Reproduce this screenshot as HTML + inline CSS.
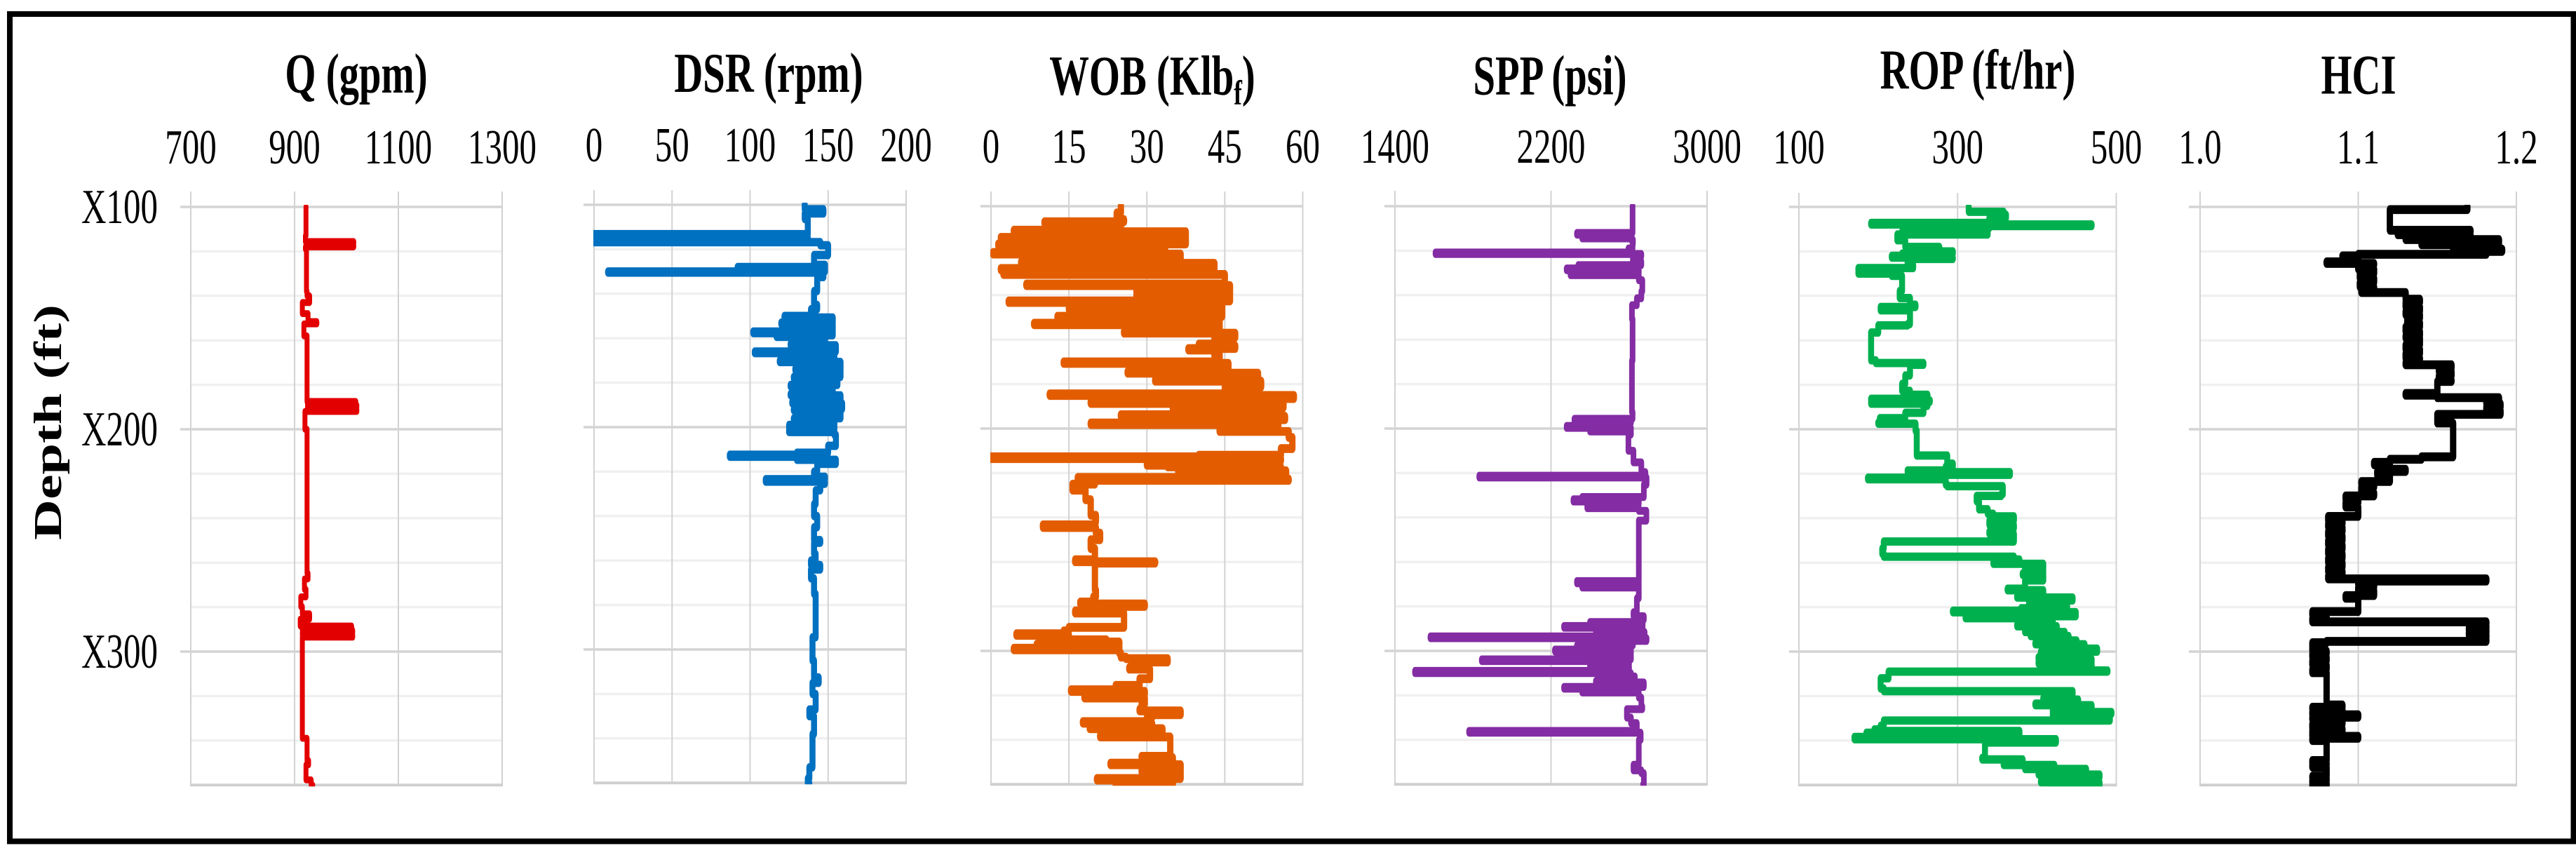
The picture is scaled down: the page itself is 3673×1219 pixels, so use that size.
<!DOCTYPE html>
<html lang="en">
<head>
<meta charset="utf-8">
<title>Drilling log tracks</title>
<style>
html,body{margin:0;padding:0;background:#fff;width:3673px;height:1219px;overflow:hidden}
svg{display:block}
text{font-family:"Liberation Serif",serif;fill:#000}
</style>
</head>
<body>
<svg id="chart" xmlns="http://www.w3.org/2000/svg" width="3673" height="1219" viewBox="0 0 3673 1219">
  <rect x="0" y="0" width="3673" height="1219" fill="#fff"/>
  <rect x="14" y="20" width="3655.5" height="1179.5" fill="none" stroke="#000" stroke-width="8"/>
  <text transform="translate(87,602) rotate(-90) scale(1.43,1)" font-size="56" font-weight="bold" text-anchor="middle">Depth (ft)</text>
  <text transform="translate(508,132) scale(0.7,1)" font-size="81" font-weight="bold" text-anchor="middle">Q (gpm)</text>
  <text transform="translate(1096,131) scale(0.7,1)" font-size="81" font-weight="bold" text-anchor="middle">DSR (rpm)</text>
  <text transform="translate(1643,135) scale(0.7,1)" font-size="81" font-weight="bold" text-anchor="middle">WOB (Klb<tspan font-size="50" dy="14">f</tspan><tspan dy="-14">)</tspan></text>
  <text transform="translate(2210,134.5) scale(0.7,1)" font-size="81" font-weight="bold" text-anchor="middle">SPP (psi)</text>
  <text transform="translate(2820,126.5) scale(0.7,1)" font-size="81" font-weight="bold" text-anchor="middle">ROP (ft/hr)</text>
  <text transform="translate(3363,133.5) scale(0.7,1)" font-size="81" font-weight="bold" text-anchor="middle">HCI</text>
  <defs id="clips"></defs>
</svg>
<script>
const depthLabels = ['X100', 'X200', 'X300'];
const depthMajor = [100, 200, 300];
const depthMinor = [120, 140, 160, 180, 220, 240, 260, 280, 320, 340];
const depthRange = [100, 360];

const qTicks = ['700', '900', '1100', '1300'];
const dsrTicks = ['0', '50', '100', '150', '200'];
const wobTicks = ['0', '15', '30', '45', '60'];
const sppTicks = ['1400', '2200', '3000'];
const ropTicks = ['100', '300', '500'];
const hciTicks = ['1.0', '1.1', '1.2'];

const qDepth = [
100,113,115,115.6,116.4,117.2,118,119,138,140,
143,148,151.6,152.6,156,158,184.7,187.5,188.4,189.2,
190,191,192,193,200,264.8,267.3,272,275.4,279.8,
283,285.4,288.5,289.4,290.4,291.4,292.4,293.5,294.5,337,
339,349,350.9,357.7,360];
const qValues = [
922,921,921,1014,922,1014,921,923,924,929,
915,926,943,918,918,924,924,1018,925,1020,
925,1020,920,920,924,926,919,922,912,915,
929,911,1010,915,1012,915,1012,915,915,915,
924,927,922,932,935];

const dsrDepth = [
100,102,103.9,106.4,111.3,113.2,114.5,115.9,116.8,118.2,
122.6,127,128,128.8,130,130.5,132.5,138.8,145,147,
150,150.7,153,153.7,157,157.7,158.7,159.4,162.5,163.2,
166,166.7,170,170.7,173.7,174.4,177.4,178.1,181,181.7,
185,185.7,188.6,189.3,191.8,192.5,196,196.7,199,199.7,
201,202.2,203.4,208.4,211.5,212.4,213.3,214.7,216.5,220,
222.3,223.4,224.5,225.5,228.4,234.6,240,245,250.8,252,
257,260,262,264,268,275,284.5,294.5,305,312.6,
315,320,327,330,338,349,353,358,360,360];
const dsrValues = [
135,147,135,137,137,0,137,0,145,150,
141,148,92,148,9,147,143,141,143,139,
122,153,120,153,102,153,117,148,126,155,
103,154,119,158,129,158,128,156,126,153,
126,158,127,159,128,158,128,154,125,154,
125,154,155,150,130,87,130,155,143,141,
148,110,148,145,142,141,143,141,145,141,
142,139,145,139,141,142,142,140,141,144,
140,142,138,141,140,140,138,137,138,138];

const wobDepth = [
100,103,106,107,107.7,110.8,111.5,114,114.7,117,
117.7,120.8,121.5,125,125.7,128,128.7,130,130.7,135,
135.7,138,138.7,140,140.7,142.6,143.3,145.8,146.5,149.5,
150.2,152.6,153.3,156.4,157.1,159,159.7,162,162.7,164,
164.7,166.4,167.1,170,170.7,172.5,174.4,175.1,176.5,178,
178.7,181.3,184.4,185.1,186.5,187.2,188,188.7,190.5,191.2,
192.5,193.8,194.5,196,197.5,198.2,199,200.6,201.3,204,
209,212,212.7,213.5,214.5,216.5,217.2,218.3,219,220.5,
222,222.7,223.3,225,227.7,232,239,242,243.3,244.5,
247,250,254,259,259.9,260.5,266,272.6,275.7,278,
278.9,280,282,283,288,289.4,291,292.3,293,295,
296,297,297.7,298.8,299.5,301,302.8,303.5,305,307.5,
308.2,312.5,315.5,317.5,318.2,319.4,321.2,324,326.2,327,
328.7,330,331.8,332.5,334.3,335,338,338.7,345,347.4,
348,350.5,351.2,353.7,354.4,357.4,358.1,360,360,360];
const wobValues = [
25,24.2,25.6,10.3,25,4.4,37.5,1.9,37.5,1.4,
33.5,0.4,36.5,5.8,43,1.9,42.5,2.4,45,6.8,
46,28,46,28,46,3.4,44.5,15,44.5,12.8,
44,8.3,44,25.6,47,43,45,40,47,38,
44,43,44,14,45.7,40,26.3,51.4,40,31.6,
52,45,11.3,58.3,30,56,19.2,56.3,35,56,
35,25,56.6,35,19.2,55.3,44,44,57.3,58,
55.8,40,0,55.8,30,34,55.8,36,56.8,40,
16.7,57.3,20,15.7,18.2,19.2,20.2,20,10,20.2,
21,19.2,20,16.2,31.6,20,20,20.2,19.7,17.2,
29.6,20,16.2,25.6,25.6,15,14,4.9,15,22.2,
24.7,8.8,24.7,4.4,24.7,25,26,34,27,26.6,
30.6,28.6,24,15.4,29.6,18,29.6,29,28.6,36.5,
31,30,17.7,31,19,33,21,34.5,34.5,29,
35,23,36.5,29,36.5,20.4,35,24,33,33];

const sppDepth = [
100,110,111.5,112,112.8,113.5,114.5,115,117,119,
120.8,121.5,122.5,124.8,126.5,127.2,128,128.8,130,131,
133.3,138.3,141.4,144.5,150.7,169.5,192.5,195.6,196.5,197.5,
198.8,199.7,200.5,201.3,202.7,210,215.2,219.6,221.2,222,
225.2,229.6,230.8,231.8,232.8,234,234.9,235.8,237,241.4,
246.4,267,268.6,269.6,270.7,271.5,276.3,282.6,284.4,286,
287,287.7,288.8,289.6,290.5,291.5,293.5,294.3,295.5,296.5,
297.5,298.3,299.4,300.3,301.3,302.2,303.8,304.6,306,307,
309,310,311.5,313.5,314.2,316.2,317,318,318.7,321,
325,326.2,330,332.5,336,336.8,340,348.7,351.2,353.7,
355,360];
const sppValues = [
2618,2618,2618,2333,2610,2360,2610,2620,2618,2597,
1608,2663,2620,2663,2340,2650,2280,2650,2300,2650,
2668,2663,2640,2615,2618,2615,2618,2320,2610,2330,
2280,2610,2400,2610,2597,2623,2663,2684,1832,2690,
2676,2676,2360,2315,2650,2386,2386,2650,2689,2650,
2650,2650,2333,2650,2360,2650,2640,2623,2676,2670,
2400,2670,2267,2670,2430,2680,1582,2690,2400,2620,
2333,2610,2220,2610,2300,2610,1845,2600,2400,2600,
1503,2610,2630,2430,2676,2267,2640,2360,2650,2663,
2668,2589,2610,2640,1780,2660,2650,2650,2623,2663,
2676,2672];

const ropDepth = [
100,102.2,103.5,105,107.2,107.9,108.6,109.5,110.3,111,
111.7,112.4,115,118,119,120,121,122,122.8,123.4,
126,127.5,128.4,129,130,131,137.8,141,144,145,
146.5,152.7,153.3,156.5,164.6,169,170.2,171,175.8,179.6,
182.7,184.5,186.3,187,187.7,188.5,189.5,192.6,195,197,
197.5,200.7,211,211.8,215.5,216.8,218.5,219.3,220.5,221.8,
222.5,224.9,225.6,229.2,230,232.4,236,238,239.2,241,
243,244.5,246,247,249.2,250.5,253.6,256,257.3,258.6,
259.8,260.5,262.5,263.3,264.8,265.5,268,271.7,272.4,275,
275.7,277,279,280.5,281.6,282.3,284.1,285,287.9,288.6,
290.4,291.2,292.2,293,294,295,296,296.7,297.5,298.7,
300,301,302.5,303.3,304.7,305.4,307,308.5,309,312,
316.6,317.8,319,320.9,321.6,323.4,324.1,325.5,327.2,328,
329,330.3,331,333.4,335,335.7,336.5,337.4,338.4,339.4,
340.9,347.8,348.5,350.3,351,352.1,352.8,354.6,355.3,356.5,
358.1,358.8,360,360];
const ropValues = [
314,358,361,340,191,469,340,250,334,230,
338,224,234,277,240,294,230,217,294,237,
244,175,217,175,217,230,227,240,247,203,
240,237,200,191,191,197,257,240,234,230,
240,262,191,265,191,262,257,234,202,200,
247,248.5,248.5,287,294,285,237,366,280,187,
285,287,357,355,324,327,338,345,371,340,
371,345,340,371,371,207,205,207,371,378,
345,408,385,408,382,408,385,363,408,375,
445,390,438,380,294,449,310,420,375,425,
385,435,392,440,400,450,398,460,410,476,
405,468,402,469,402,469,410,489,213,203,
207,445,410,408,452,398,469,420,494,420,
490,492,207,203,195,378,185,378,170,424,
334.5,331,382,358,422,385,462,402,479,410,
405,479,417,465];

const hciDepth = [
100,101.2,109.5,110.5,111.3,112.5,113,114,114.7,116,
117,118,119,120,121.3,122,123,124.7,125.4,126,
128,130,132,134,136,137.8,138.5,139.5,141.5,143,
145,147,148.5,150,152,154,156,158,159,160,
162,164,166,168,170,171,172.5,174,176,178,
178.5,183,183.9,184.7,185.8,187,188.5,190,191.5,193.3,
194.5,196.4,197.2,200,211,212.4,213.5,214.9,216,218,
219,220.5,222.4,223.5,224.5,226,228.6,230,231.5,233,
235,237.4,239.2,241,242.5,244,246,248,250,252,
254,256,258,260,262,264,266,267.3,268.3,269.8,
271,272.5,274.8,276,278,281,282,283.5,285,286.6,
287.5,288.5,289.5,290.5,291.5,292.5,293.5,294.5,295.4,296,
299.7,301,302.5,304.1,306,308,309.5,311,323,324,
325,326,327,328.4,329.5,330.5,331.5,332.5,333.5,334.7,
335.7,336.5,337,338.1,339,340,341,347.5,349,350.2,
351,352,355,356,357,358,359,360];
const hciValues = [
1.169,1.12,1.12,1.171,1.125,1.171,1.13,1.13,1.189,1.14,
1.189,1.16,1.191,1.181,1.1,1.09,1.1,1.08,1.11,1.1,
1.11,1.101,1.11,1.101,1.11,1.102,1.13,1.13,1.139,1.13,
1.139,1.13,1.139,1.131,1.139,1.13,1.139,1.13,1.139,1.139,
1.13,1.139,1.13,1.139,1.13,1.159,1.151,1.159,1.151,1.159,
1.15,1.15,1.13,1.15,1.189,1.181,1.19,1.181,1.19,1.15,
1.15,1.15,1.16,1.16,1.16,1.14,1.12,1.11,1.12,1.13,
1.112,1.12,1.12,1.102,1.11,1.102,1.11,1.092,1.1,1.092,
1.1,1.1,1.081,1.09,1.081,1.09,1.081,1.09,1.081,1.09,
1.081,1.09,1.081,1.09,1.081,1.09,1.081,1.181,1.1,1.11,
1.1,1.11,1.092,1.1,1.1,1.1,1.071,1.08,1.071,1.181,
1.17,1.181,1.17,1.181,1.17,1.181,1.17,1.181,1.08,1.071,
1.08,1.071,1.08,1.071,1.08,1.071,1.08,1.08,1.08,1.09,
1.071,1.09,1.071,1.1,1.071,1.09,1.09,1.071,1.071,1.09,
1.071,1.09,1.071,1.1,1.071,1.08,1.08,1.08,1.071,1.08,
1.071,1.08,1.08,1.071,1.08,1.071,1.08,1.071];

const NS = 'http://www.w3.org/2000/svg';
const svg = document.getElementById('chart');
const clips = document.getElementById('clips');
const PX_PER_FT = 3.17;
const STROKE_STRETCH = 1.4;

const tracks = [
  {id:'q',   left:272,  right:716,    top:295, base:233, capTop:273, tickLeft:257,  sw:7,   color:'#e30000', ticks:qTicks,   depth:qDepth,   values:qValues},
  {id:'dsr', left:847,  right:1292,   top:292, base:230, capTop:271, tickLeft:832,  sw:8.5, color:'#0070c0', ticks:dsrTicks, depth:dsrDepth, values:dsrValues},
  {id:'wob', left:1413, right:1857.5, top:294, base:232, capTop:273, tickLeft:1398, sw:9,   color:'#e35d00', ticks:wobTicks, depth:wobDepth, values:wobValues},
  {id:'spp', left:1989, right:2434,   top:294, base:232, capTop:272, tickLeft:1974, sw:8,   color:'#832ca3', ticks:sppTicks, depth:sppDepth, values:sppValues},
  {id:'rop', left:2565, right:3017.5, top:295, base:233, capTop:275, tickLeft:2551, sw:8.5, color:'#00b04f', ticks:ropTicks, depth:ropDepth, values:ropValues},
  {id:'hci', left:3137, right:3588,   top:295, base:233, capTop:273, tickLeft:3121, sw:9,   color:'#000000', ticks:hciTicks, depth:hciDepth, values:hciValues}
];

function create(tag, attrs, parent) {
  const el = document.createElementNS(NS, tag);
  for (const k in attrs) el.setAttribute(k, attrs[k]);
  (parent || svg).appendChild(el);
  return el;
}

tracks.forEach(function (t) {
  const min = Number(t.ticks[0]);
  const max = Number(t.ticks[t.ticks.length - 1]);
  const xScale = function (v) { return t.left + (v - min) / (max - min) * (t.right - t.left); };
  const yScale = function (d) { return t.top + (d - depthRange[0]) * PX_PER_FT; };
  const bottom = yScale(depthRange[1]);

  const grid = create('g', {});
  
  

  depthMinor.forEach(function (d) {
    const line = create('line', {x1:t.left, x2:t.right, y1:yScale(d), y2:yScale(d), stroke:'#f0f0f0', 'stroke-width':3.5}, grid);
    
    
  });

  t.ticks.forEach(function (label) {
    const x = xScale(Number(label));
    const line = create('line', {x1:x, x2:x, y1:t.capTop, y2:bottom, stroke:'#d2d2d2', 'stroke-width':2}, grid);
    
    

    const text = create('text', {transform:'translate(' + x + ',' + t.base + ') scale(0.7,1)', 'font-size':70, 'text-anchor':'middle'});
    
    
    text.textContent = label;
  });

  depthMajor.forEach(function (d) {
    const line = create('line', {x1:t.tickLeft, x2:t.right, y1:yScale(d), y2:yScale(d), stroke:'#d4d4d4', 'stroke-width':3.5}, grid);
    
    
  });

  const baseLine = create('line', {x1:t.left - 1, x2:t.right + 1, y1:bottom, y2:bottom, stroke:'#cfcfcf', 'stroke-width':4}, grid);
  
  

  const clip = create('clipPath', {id:'clip-' + t.id}, clips);
  create('rect', {x:t.left - 1, y:t.top - 3, width:t.right - t.left + 30, height:bottom - t.top + 5}, clip);

  const n = Math.min(t.depth.length, t.values.length);
  const pts = [];
  for (let i = 0; i < n; i++) {
    const yy = (yScale(t.depth[i]) / STROKE_STRETCH).toFixed(2);
    if (i > 0) pts.push(xScale(t.values[i - 1]).toFixed(1) + ',' + yy);
    pts.push(xScale(t.values[i]).toFixed(1) + ',' + yy);
  }
  const holder = create('g', {'clip-path':'url(#clip-' + t.id + ')'});
  
  
  const scaler = create('g', {transform:'scale(1,' + STROKE_STRETCH + ')'}, holder);
  const series = create('polyline', {points:pts.join(' '), fill:'none', stroke:t.color, 'stroke-width':t.sw, 'stroke-linejoin':'round', 'stroke-linecap':'round'}, scaler);
  
  
});

depthMajor.forEach(function (d, i) {
  const y = 295 + (d - depthRange[0]) * PX_PER_FT + 23;
  const text = create('text', {transform:'translate(225,' + y + ') scale(0.7,1)', 'font-size':70, 'text-anchor':'end'});
  
  
  text.textContent = depthLabels[i];
});
</script>
</body>
</html>
